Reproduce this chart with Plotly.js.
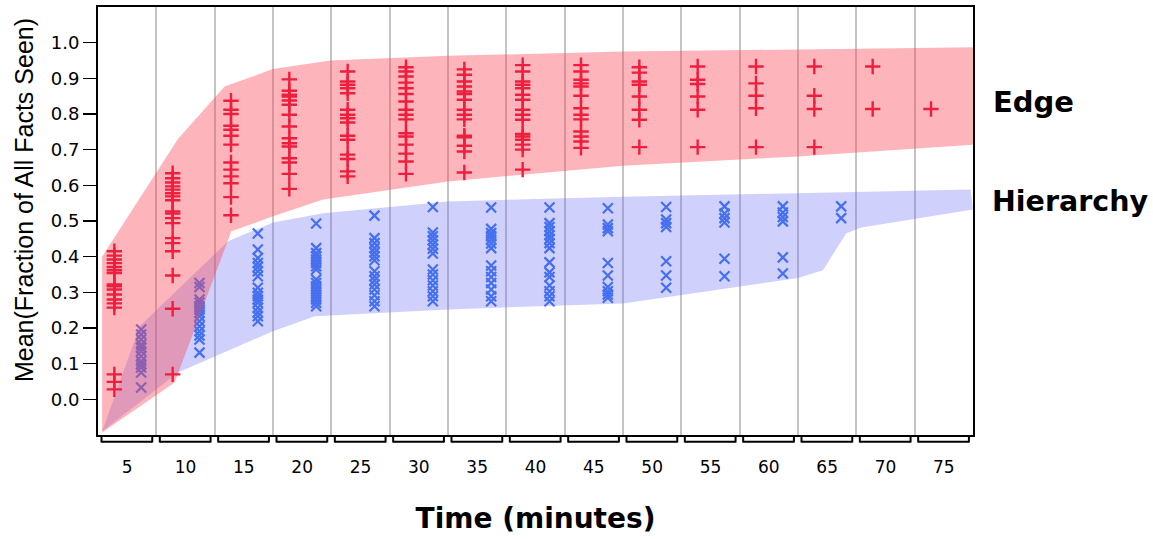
<!DOCTYPE html>
<html>
<head>
<meta charset="utf-8">
<script src="https://cdn.plot.ly/plotly-3.0.1.min.js"></script>
<style>html,body{margin:0;padding:0;background:#fff;}#chart{width:1153px;height:539px;}</style>
</head>
<body>
<div id="chart"></div>
<script>
// ---- categories (minutes) ----
const times = [5, 10, 15, 20, 25, 30, 35, 40, 45, 50, 55, 60, 65, 70, 75];
const tickLabels = ["5","10","15","20","25","30","35","40","45","50","55","60","65","70","75"];

// ---- Edge condition: values per time ----
const edge05 = [0.415,0.403,0.392,0.382,0.371,0.362,0.354,0.322,0.317,0.308,0.294,0.280,0.269,0.257,0.070,0.049,0.028];
const edge10 = [0.634,0.620,0.608,0.597,0.588,0.578,0.569,0.558,0.527,0.521,0.508,0.494,0.452,0.438,0.415,0.347,0.254,0.070];
const edge15 = [0.837,0.812,0.800,0.767,0.756,0.739,0.714,0.664,0.644,0.625,0.606,0.567,0.516];
const edge20 = [0.897,0.865,0.854,0.849,0.838,0.826,0.798,0.765,0.732,0.718,0.709,0.676,0.664,0.632,0.590];
const edge25 = [0.919,0.891,0.882,0.872,0.858,0.812,0.798,0.788,0.776,0.739,0.728,0.686,0.674,0.639,0.625];
const edge30 = [0.931,0.919,0.905,0.888,0.872,0.856,0.835,0.812,0.798,0.785,0.746,0.737,0.714,0.689,0.667,0.632];
const edge35 = [0.925,0.910,0.891,0.877,0.863,0.856,0.840,0.812,0.798,0.785,0.739,0.735,0.711,0.695,0.636];
const edge40 = [0.937,0.919,0.891,0.882,0.872,0.854,0.840,0.812,0.798,0.784,0.744,0.737,0.728,0.714,0.700,0.644];
const edge45 = [0.937,0.919,0.896,0.886,0.877,0.851,0.816,0.798,0.785,0.751,0.737,0.723,0.705];
const edge50 = [0.931,0.916,0.891,0.882,0.849,0.812,0.784,0.707];
const edge55 = [0.933,0.896,0.884,0.849,0.812,0.707];
const edge60 = [0.933,0.886,0.851,0.816,0.707];
const edge65 = [0.933,0.851,0.814,0.707];
const edge70 = [0.933,0.814];
const edge75 = [0.814];
const edgeGroups = [edge05,edge10,edge15,edge20,edge25,edge30,edge35,edge40,edge45,edge50,edge55,edge60,edge65,edge70,edge75];

// ---- Hierarchy condition: values per time ----
const hier05 = [0.196,0.182,0.168,0.154,0.145,0.135,0.121,0.107,0.098,0.089,0.075,0.033];
const hier10 = [0.326,0.315,0.280,0.271,0.261,0.252,0.243,0.233,0.219,0.205,0.191,0.179,0.168,0.131];
const hier15 = [0.465,0.420,0.396,0.382,0.371,0.359,0.345,0.313,0.299,0.289,0.280,0.271,0.257,0.244,0.233,0.219];
const hier20 = [0.493,0.424,0.410,0.401,0.392,0.382,0.373,0.364,0.336,0.326,0.317,0.308,0.299,0.289,0.280,0.271,0.261];
const hier25 = [0.515,0.452,0.438,0.424,0.412,0.401,0.390,0.359,0.345,0.334,0.322,0.308,0.292,0.275,0.261];
const hier30 = [0.539,0.468,0.457,0.446,0.434,0.422,0.409,0.364,0.350,0.334,0.319,0.303,0.289,0.275];
const hier35 = [0.538,0.478,0.466,0.457,0.448,0.437,0.424,0.375,0.359,0.343,0.326,0.308,0.289,0.275];
const hier40 = [0.538,0.494,0.483,0.471,0.460,0.450,0.438,0.424,0.384,0.356,0.343,0.319,0.303,0.289,0.275];
const hier45 = [0.536,0.490,0.480,0.471,0.382,0.347,0.315,0.303,0.294,0.285];
const hier50 = [0.539,0.504,0.494,0.483,0.387,0.347,0.313];
const hier55 = [0.541,0.521,0.508,0.496,0.394,0.345];
const hier60 = [0.541,0.524,0.511,0.499,0.398,0.353];
const hier65 = [0.541,0.508];
const hierGroups = [hier05,hier10,hier15,hier20,hier25,hier30,hier35,hier40,hier45,hier50,hier55,hier60,hier65];

// ---- shaded ranges ----
const edgeUpperT = [2.85, 9.35, 13.35, 17.5, 22.4, 32.5, 47.5, 62.5, 77.5];
const edgeUpperV = [0.400, 0.730, 0.877, 0.926, 0.950, 0.963, 0.975, 0.981, 0.987];
const edgeLowerT = [2.85, 9.07, 13.93, 17.5, 21.8, 32.5, 47.5, 62.5, 77.5];
const edgeLowerV = [-0.093, 0.047, 0.471, 0.513, 0.560, 0.611, 0.655, 0.681, 0.714];
const hierUpperT = [2.85, 6.07, 13.64, 17.5, 21.8, 32.5, 47.5, 62.5, 77.3];
const hierUpperV = [-0.090, 0.205, 0.443, 0.496, 0.522, 0.555, 0.568, 0.578, 0.588];
const hierLowerT = [2.85, 9.36, 17.5, 21.07, 32.5, 47.5, 62.5, 64.64, 66.64, 67.93, 77.5];
const hierLowerV = [-0.090, 0.075, 0.191, 0.233, 0.252, 0.269, 0.340, 0.362, 0.466, 0.482, 0.532];

const edgeOffset = -1.1, hierOffset = 1.2;

function flatten(groups, offset) {
  const xs = [], ys = [];
  groups.forEach((g, i) => g.forEach(v => { xs.push(times[i] + offset); ys.push(v); }));
  return {xs, ys};
}
function band(ut, uv, lt, lv) {
  return {x: ut.concat(lt.slice().reverse()), y: uv.concat(lv.slice().reverse())};
}

const e = flatten(edgeGroups, edgeOffset);
const h = flatten(hierGroups, hierOffset);
const eb = band(edgeUpperT, edgeUpperV, edgeLowerT, edgeLowerV);
const hb = band(hierUpperT, hierUpperV, hierLowerT, hierLowerV);

const traces = [
  {x: hb.x, y: hb.y, type: 'scatter', mode: 'lines', fill: 'toself',
   fillcolor: 'rgba(100,100,245,0.30)', line: {width: 0}, hoverinfo: 'skip', showlegend: false},
  {x: h.xs, y: h.ys, type: 'scatter', mode: 'markers', name: 'Hierarchy',
   marker: {symbol: 'x-thin', size: 10, line: {width: 2.2, color: '#4470ef'}, color: '#4470ef'}},
  {x: eb.x, y: eb.y, type: 'scatter', mode: 'lines', fill: 'toself',
   fillcolor: 'rgba(250,70,85,0.40)', line: {width: 0}, hoverinfo: 'skip', showlegend: false},
  {x: e.xs, y: e.ys, type: 'scatter', mode: 'markers', name: 'Edge',
   marker: {symbol: 'cross-thin', size: 11, line: {width: 2.4, color: '#ee1e3e'}, color: '#ee1e3e'}}
];

// bracket decorations under each time group
const shapes = [];
times.forEach(t => {
  const a = t - 2.2, b = t + 2.15;
  shapes.push({type: 'line', xref: 'x', yref: 'paper', x0: a, x1: b, y0: -0.0155, y1: -0.0155, line: {color: '#000', width: 2}});
  shapes.push({type: 'line', xref: 'x', yref: 'paper', x0: a, x1: a, y0: -0.0045, y1: -0.0175, line: {color: '#000', width: 2}});
  shapes.push({type: 'line', xref: 'x', yref: 'paper', x0: b, x1: b, y0: -0.0045, y1: -0.0175, line: {color: '#000', width: 2}});
});

const layout = {
  width: 1153, height: 539,
  margin: {l: 98, r: 180, t: 7, b: 104},
  paper_bgcolor: '#fff', plot_bgcolor: '#fff',
  showlegend: false,
  font: {family: 'DejaVu Sans, Arial, sans-serif', color: '#000'},
  xaxis: {
    range: [2.5, 77.5], tickvals: times, ticktext: tickLabels, ticks: '',
    ticklabelstandoff: 16, tickfont: {size: 17, family: 'DejaVu Sans'},
    showgrid: false, zeroline: false,
    minor: {tick0: 2.5, dtick: 5, showgrid: true, gridcolor: '#c4c4c4', gridwidth: 2, ticks: ''},
    showline: true, linecolor: '#000', linewidth: 2, mirror: true,
    title: {text: 'Time (minutes)', font: {size: 28, family: 'DejaVu Sans', weight: 'bold'}, standoff: 32}
  },
  yaxis: {
    range: [-0.1, 1.1], tickvals: [0,0.1,0.2,0.3,0.4,0.5,0.6,0.7,0.8,0.9,1.0],
    ticktext: ['0.0','0.1','0.2','0.3','0.4','0.5','0.6','0.7','0.8','0.9','1.0'],
    ticks: 'outside', ticklen: 13, tickwidth: 1.5, tickcolor: '#000',
    tickfont: {size: 18, family: 'DejaVu Sans'},
    showgrid: false, zeroline: false,
    showline: true, linecolor: '#000', linewidth: 2, mirror: true
  },
  shapes: shapes,
  annotations: [
    {text: 'Mean(Fraction of All Facts Seen)', xref: 'paper', yref: 'paper', x: 0, y: 0.549,
     xanchor: 'center', yanchor: 'middle', xshift: -74, textangle: -90, showarrow: false,
     font: {size: 25, family: 'Liberation Sans'}},
    {text: 'Edge', xref: 'paper', yref: 'y', x: 1, y: 0.835, xanchor: 'left', yanchor: 'middle', xshift: 18,
     showarrow: false, font: {size: 29, family: 'DejaVu Sans', weight: 'bold'}},
    {text: 'Hierarchy', xref: 'paper', yref: 'y', x: 1, y: 0.556, xanchor: 'left', yanchor: 'middle', xshift: 17,
     showarrow: false, font: {size: 28.5, family: 'DejaVu Sans', weight: 'bold'}}
  ]
};

Plotly.newPlot('chart', traces, layout, {displayModeBar: false, staticPlot: true});
</script>
</body>
</html>
